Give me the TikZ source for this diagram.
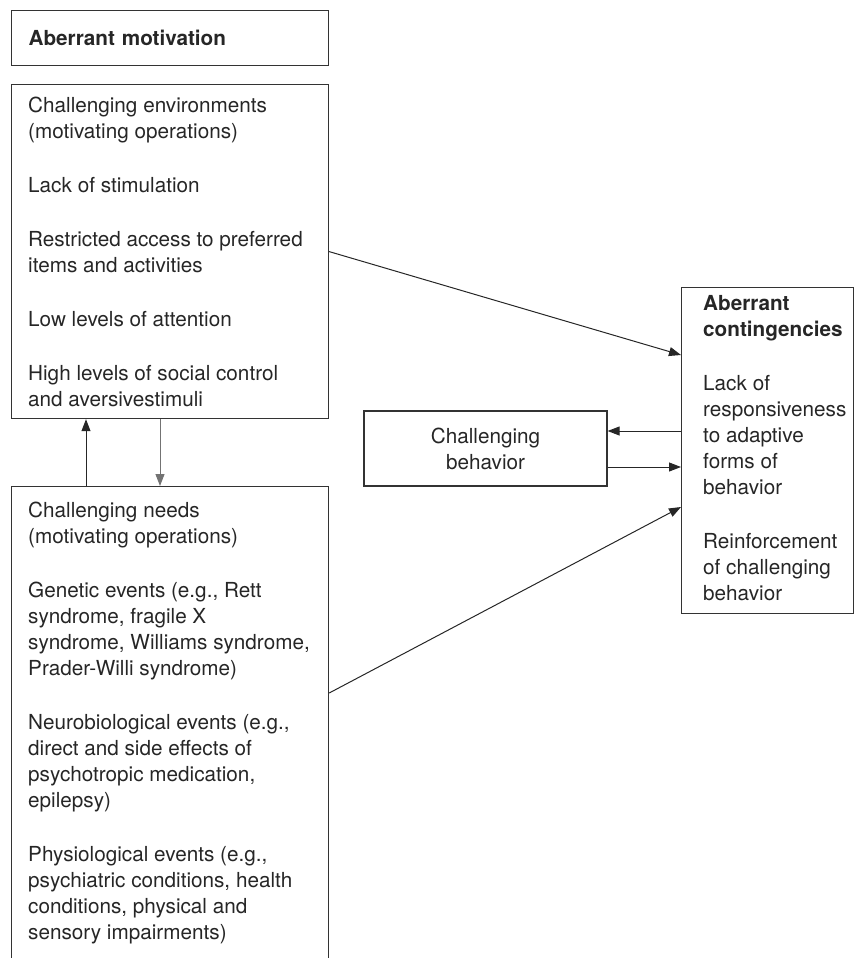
\documentclass[tikz,border=0pt]{standalone}
\usepackage{fontspec}
\setmainfont{TeX Gyre Heros}
\usetikzlibrary{positioning, arrows.meta}

\begin{document}
\begin{tikzpicture}[
  x=1pt, y=-1pt,
  >={Triangle[length=12pt, width=9pt]},
  every node/.style={font=\fontsize{20.7}{26}\selectfont, text=black!85},
  box/.style={draw=black!80, line width=1.2pt, inner sep=0pt, anchor=north west},
  txt/.style={anchor=north west, inner sep=0pt, align=left},
  link/.style={->, line width=1pt, draw=black!85}
]
\useasboundingbox (0,0) rectangle (855,958);
\clip (0,0) rectangle (855,958);

% Left column
\node[box, text width=283pt, inner xsep=17pt, minimum height=55pt, align=left,
  font=\fontsize{20.7}{26}\selectfont\bfseries] (motiv) at (11,10) {Aberrant motivation};
\node[box, minimum width=317pt, minimum height=334pt] (env) at (11,84) {};
\node[txt, below right=13pt and 17pt of env.north west] (envtxt)
  {Challenging environments\\(motivating operations)\\[28pt]
   Lack of stimulation\\[28pt]
   Restricted access to preferred\\items and activities\\[28pt]
   Low levels of attention\\[28pt]
   High levels of social control\\and aversivestimuli};
% bottom edge runs off the page
\node[box, minimum width=317pt, minimum height=520pt] (needs) at (11,486) {};
\node[txt, below right=16pt and 17pt of needs.north west] (needstxt)
  {Challenging needs\\(motivating operations)\\[28pt]
   Genetic events (e.g., Rett\\syndrome, fragile X\\syndrome, Williams syndrome,\\Prader-Willi syndrome)\\[28pt]
   Neurobiological events (e.g.,\\direct and side effects of\\psychotropic medication,\\epilepsy)\\[28pt]
   Physiological events (e.g.,\\psychiatric conditions, health\\conditions, physical and\\sensory impairments)};

% Middle and right
\node[box, anchor=center, minimum width=243pt, minimum height=75pt, align=center] (behav)
  at (485.5,448.5) {Challenging\\behavior};
\node[box, minimum width=172pt, minimum height=326pt] (conting) at (681,287) {};
\node[txt, below right=8pt and 22pt of conting.north west] (contxt)
  {\bfseries Aberrant\\\bfseries contingencies\\[28pt]
   Lack of\\responsiveness\\to adaptive\\forms of\\behavior\\[28pt]
   Reinforcement\\of challenging\\behavior};

% Connectors
\draw[link] (env.east) -- ([yshift=-68pt]conting.north west);
\draw[link] ([yshift=-207pt]needs.north east) -- ([yshift=-220pt]conting.north west);
\draw[link] ([yshift=17.5pt]behav.east -| conting.west) -- ([yshift=17.5pt]behav.east);
\draw[link] ([yshift=-18.5pt]behav.east) -- ([yshift=-18.5pt]behav.east -| conting.west);
\draw[link] ([xshift=75pt]needs.north west) -- ([xshift=75pt]env.south west);
\draw[link, draw=black!55] ([xshift=149pt]env.south west) -- ([xshift=149pt]needs.north west);

\end{tikzpicture}
\end{document}
